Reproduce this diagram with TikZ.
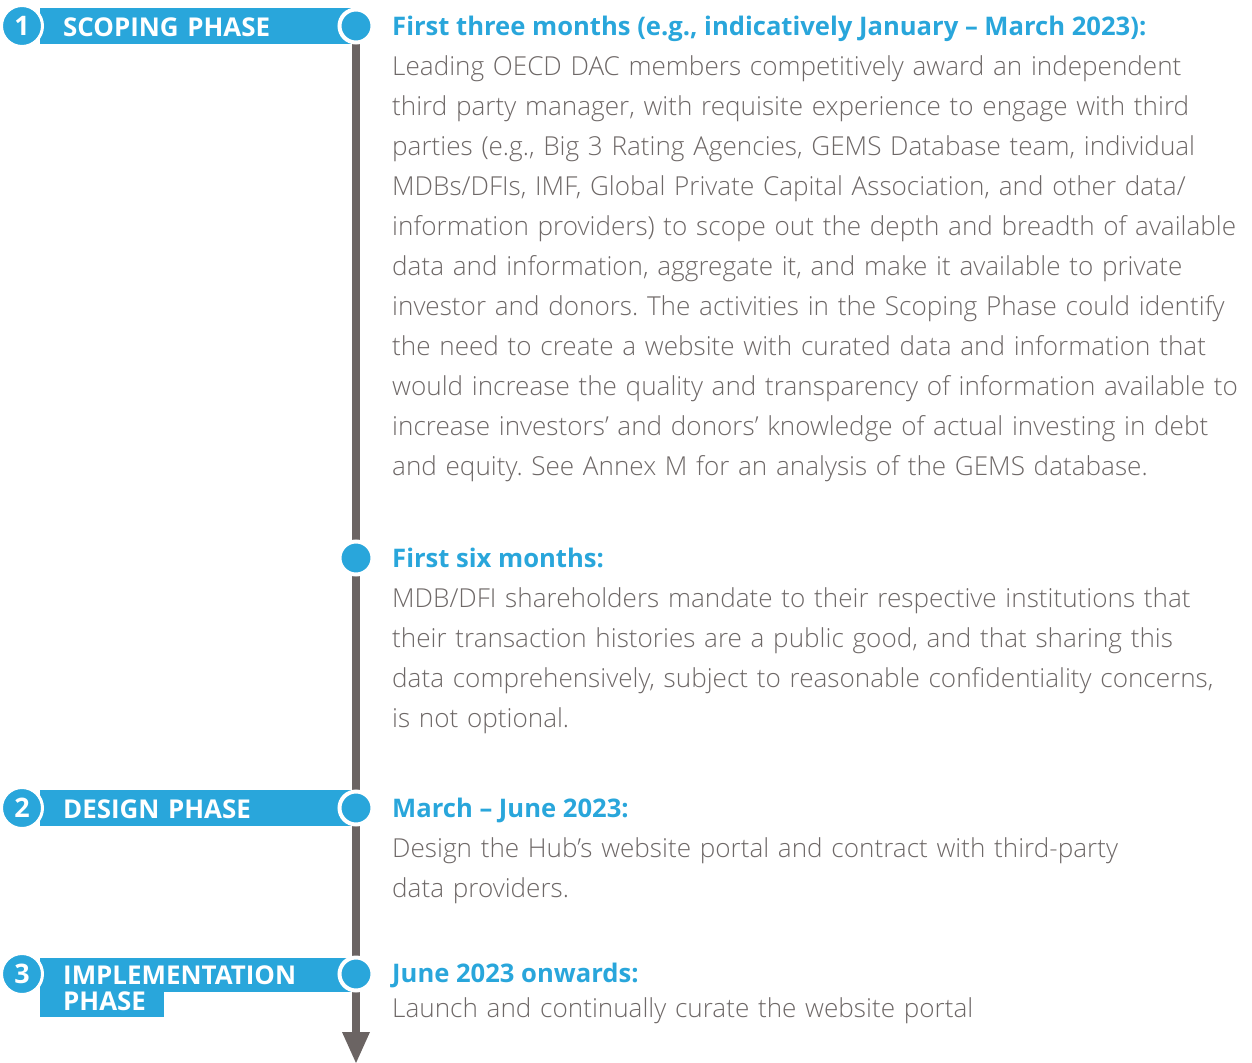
\documentclass[tikz,border=0pt]{standalone}
\usepackage{fontspec}
\setmainfont{Open Sans}
\IfFontExistsTF{Open Sans Light}{\newfontfamily\lightfont{Open Sans Light}}{\newfontfamily\lightfont{Open Sans}}
\frenchspacing
\definecolor{phaseblue}{HTML}{29A6DB}
\definecolor{linegray}{HTML}{6B6463}
\definecolor{textgray}{HTML}{6E6867}
\tikzset{
  phasebar/.style={fill=phaseblue},
  phasenum/.style={circle, fill=phaseblue, draw=white, line width=3bp, minimum size=41bp, inner sep=0pt, text=white, font=\fontsize{27}{27}\selectfont\bfseries},
  phasetext/.style={anchor=base west, inner sep=0pt, text=white, text width=280bp, align=left, font=\fontsize{26}{26.5}\selectfont\bfseries},
  stepdot/.style={circle, fill=phaseblue, draw=white, line width=4bp, minimum size=33bp, inner sep=0pt},
  heading/.style={anchor=base west, inner sep=0pt, text=phaseblue, font=\fontsize{25.7}{40}\selectfont\bfseries},
  bodytext/.style={anchor=base west, inner sep=0pt, text=textgray, text width=880bp, align=left, font=\lightfont\fontsize{26.2}{40.15}\selectfont}
}
\begin{document}
\begin{tikzpicture}[x=1bp, y=-1bp]
    \useasboundingbox (0,0) rectangle (1252,1063);
    % timeline
    \coordinate (top) at (356,40);
    \coordinate (bottom) at (356,1034);
    \draw[linegray, line width=8bp] (top) -- (bottom);
    \fill[linegray] (342,1032) -- (370,1032) -- (356,1063) -- cycle;
    % phase bars
    \fill[phasebar] (40,8) rectangle (356,44);
    \fill[phasebar] (40,790) rectangle (356,826);
    \fill[phasebar] (40,958) rectangle (356,992);
    \fill[phasebar] (40,992) rectangle (164,1017);
    \node[phasenum] (n1) at (22,26) {1};
    \node[phasenum] (n2) at (22,808) {2};
    \node[phasenum] (n3) at (22,974) {3};
    \node[phasetext] (p1) at (63,36) {SCOPING PHASE};
    \node[phasetext] (p2) at (63,818) {DESIGN PHASE};
    \node[phasetext] (p3) at (63,984) {IMPLEMENTATION\\PHASE};
    % dots on the line
    \node[stepdot] (d1) at (356,26) {};
    \node[stepdot] (d2) at (356,558) {};
    \node[stepdot] (d3) at (356,808) {};
    \node[stepdot] (d4) at (356,974) {};
    % texts
    \node[heading] (h1) at (392,35) {First three months (e.g., indicatively January – March 2023):};
    \node[bodytext] (b1) at (392,75) {Leading OECD DAC members competitively award an independent\\
third party manager, with requisite experience to engage with third\\
parties (e.g., Big 3 Rating Agencies, GEMS Database team, individual\\
MDBs/DFIs, IMF, Global Private Capital Association, and other data/\\
information providers) to scope out the depth and breadth of available\\
data and information, aggregate it, and make it available to private\\
investor and donors. The activities in the Scoping Phase could identify\\
the need to create a website with curated data and information that\\
would increase the quality and transparency of information available to\\
increase investors’ and donors’ knowledge of actual investing in debt\\
and equity. See Annex M for an analysis of the GEMS database.};
    \node[heading] (h2) at (392,567) {First six months:};
    \node[bodytext] (b2) at (392,607) {MDB/DFI shareholders mandate to their respective institutions that\\
their transaction histories are a public good, and that sharing this\\
data comprehensively, subject to reasonable confidentiality concerns,\\
is not optional.};
    \node[heading] (h3) at (392,817) {March – June 2023:};
    \node[bodytext] (b3) at (392,857) {Design the Hub’s website portal and contract with third-party\\
data providers.};
    \node[heading] (h4) at (392,982) {June 2023 onwards:};
    \node[bodytext] (b4) at (392,1017) {Launch and continually curate the website portal};
\end{tikzpicture}
\end{document}
